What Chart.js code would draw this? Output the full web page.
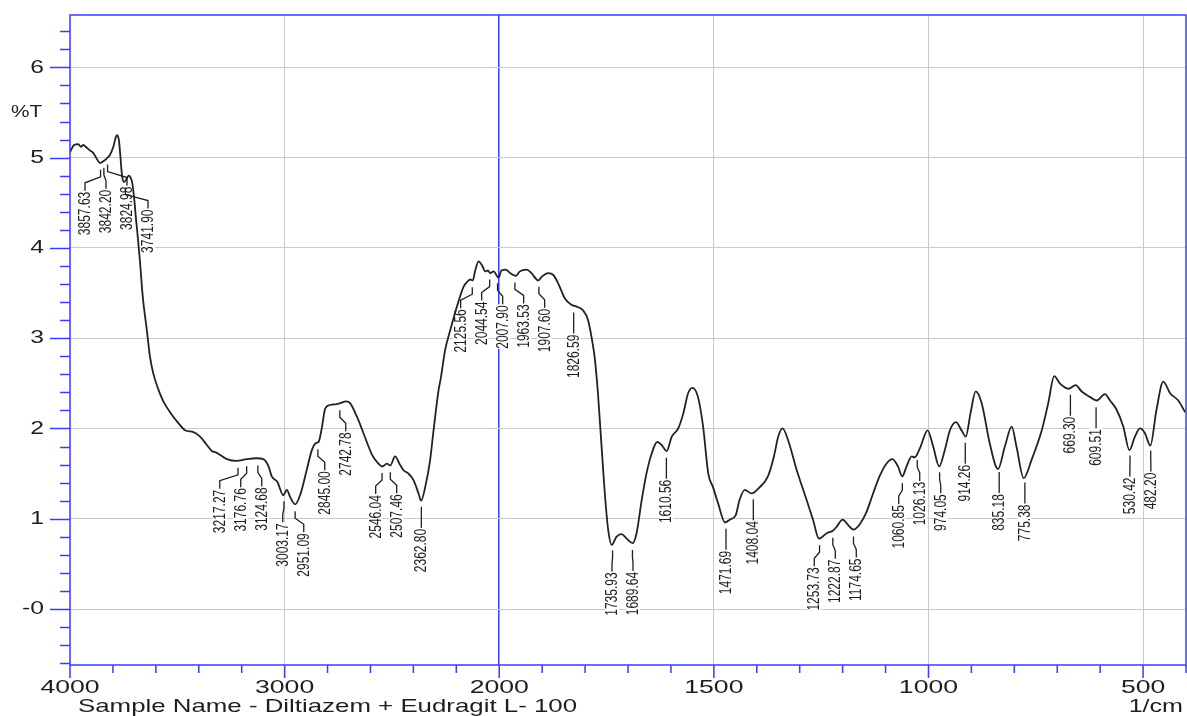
<!DOCTYPE html>
<html>
<head>
<meta charset="utf-8">
<title>FTIR - Diltiazem + Eudragit L-100</title>
<script src="https://cdn.jsdelivr.net/npm/chart.js@4"></script>
<style>
  html, body { margin: 0; padding: 0; background: #fff; }
  canvas { display: block; }
</style>
</head>
<body>
<canvas id="ftir" width="1187" height="716"></canvas>
<script>
// spectrum (1/cm, %T)
const wavenumbers = [
  4000, 3981, 3961, 3949, 3938, 3922, 3907, 3891, 3876, 3860, 3845, 3829, 3814, 3798, 3786, 3780,
  3772, 3765, 3758, 3748, 3737, 3727, 3718, 3709, 3702, 3692, 3683, 3674, 3661, 3642, 3627, 3612,
  3588, 3565, 3534, 3495, 3464, 3425, 3394, 3363, 3339, 3316, 3269, 3223, 3176, 3130, 3099, 3075,
  3060, 3034, 3006, 2990, 2974, 2951, 2928, 2897, 2873, 2853, 2842, 2827, 2811, 2788, 2757, 2741,
  2713, 2695, 2663, 2633, 2593, 2570, 2544, 2524, 2508, 2485, 2465, 2447, 2423, 2400, 2376, 2364,
  2345, 2322, 2306, 2283, 2272, 2252, 2228, 2197, 2166, 2151, 2135, 2123, 2112, 2096, 2081, 2065,
  2053, 2042, 2026, 2003, 1995, 1985, 1974, 1961, 1952, 1936, 1925, 1909, 1901, 1886, 1874, 1863,
  1847, 1832, 1820, 1805, 1793, 1781, 1777, 1770, 1762, 1754, 1746, 1738, 1727, 1715, 1703, 1689,
  1680, 1668, 1657, 1645, 1632, 1622, 1610, 1598, 1583, 1571, 1560, 1550, 1537, 1525, 1513, 1502,
  1490, 1474, 1463, 1449, 1440, 1428, 1412, 1393, 1374, 1360, 1350, 1340, 1327, 1307, 1284, 1269,
  1255, 1237, 1222, 1214, 1200, 1187, 1175, 1160, 1144, 1129, 1113, 1098, 1084, 1071, 1061, 1051,
  1039, 1032, 1020, 1002, 989, 975, 962, 950, 936, 923, 913, 902, 890, 876, 857, 838,
  822, 806, 795, 778, 760, 736, 721, 707, 694, 674, 657, 643, 624, 608, 589, 577,
  562, 546, 532, 519, 507, 496, 483, 469, 453, 437, 418, 402
];
const transmittance = [
  5.06, 5.14, 5.15, 5.12, 5.14, 5.11, 5.08, 5.05, 4.99, 4.94, 4.96, 4.99, 5.03, 5.12, 5.23, 5.25,
  5.19, 5.01, 4.81, 4.73, 4.76, 4.80, 4.78, 4.71, 4.57, 4.31, 4.09, 3.85, 3.46, 3.09, 2.79, 2.61,
  2.43, 2.30, 2.18, 2.06, 1.98, 1.96, 1.91, 1.82, 1.75, 1.73, 1.66, 1.64, 1.66, 1.67, 1.66, 1.58,
  1.47, 1.41, 1.26, 1.32, 1.24, 1.16, 1.26, 1.54, 1.76, 1.84, 1.85, 2.00, 2.22, 2.26, 2.27, 2.28,
  2.30, 2.28, 2.13, 1.95, 1.71, 1.63, 1.58, 1.61, 1.59, 1.69, 1.61, 1.54, 1.50, 1.43, 1.28, 1.20,
  1.35, 1.65, 1.98, 2.42, 2.56, 2.87, 3.09, 3.35, 3.57, 3.62, 3.65, 3.64, 3.75, 3.85, 3.81, 3.74,
  3.75, 3.72, 3.74, 3.67, 3.75, 3.76, 3.72, 3.69, 3.74, 3.76, 3.72, 3.64, 3.68, 3.72, 3.70, 3.61,
  3.44, 3.37, 3.35, 3.31, 3.20, 2.90, 2.76, 2.39, 1.83, 1.28, 0.87, 0.71, 0.80, 0.83, 0.78, 0.73,
  0.84, 1.21, 1.50, 1.72, 1.85, 1.82, 1.75, 1.91, 2.00, 2.17, 2.39, 2.45, 2.35, 2.02, 1.50, 1.35,
  1.17, 0.96, 0.99, 1.04, 1.21, 1.32, 1.28, 1.35, 1.47, 1.69, 1.91, 2.00, 1.87, 1.54, 1.21, 0.99,
  0.78, 0.84, 0.87, 0.91, 0.99, 0.93, 0.88, 0.94, 1.08, 1.28, 1.48, 1.61, 1.66, 1.58, 1.47, 1.58,
  1.69, 1.68, 1.78, 1.98, 1.80, 1.58, 1.76, 1.98, 2.07, 1.98, 1.91, 2.17, 2.41, 2.28, 1.83, 1.55,
  1.80, 2.02, 1.80, 1.45, 1.65, 1.98, 2.28, 2.58, 2.50, 2.44, 2.48, 2.41, 2.35, 2.31, 2.38, 2.31,
  2.21, 2.02, 1.76, 1.91, 2.00, 1.95, 1.81, 2.20, 2.52, 2.39, 2.31, 2.18
];

// picked peaks printed on the spectrum
const peakLabels = [
  3857.63, 3842.20, 3824.98, 3741.90, 3217.27, 3176.76, 3124.68, 3003.17, 2951.09, 2845.00,
  2742.78, 2546.04, 2507.46, 2362.80, 2125.56, 2044.54, 2007.90, 1963.53, 1907.60, 1826.59,
  1735.93, 1689.64, 1610.56, 1471.69, 1408.04, 1253.73, 1222.87, 1174.65, 1060.85, 1026.13,
  974.05, 914.26, 835.18, 775.38, 669.30, 609.51, 530.42, 482.20
];

const xMajorTicks = [4000, 3000, 2000, 1500, 1000, 500];
const xMinorTicks = [3800, 3600, 3400, 3200, 2800, 2600, 2400, 2200, 1900, 1800, 1700, 1600,
  1400, 1300, 1200, 1100, 900, 800, 700, 600, 400];
const xGridLines = [3000, 1500, 1000, 500];
const yMajorTicks = [0, 1, 2, 3, 4, 5, 6];
const yTickLabels = ["-0", "1", "2", "3", "4", "5", "6"];
const sampleName = "Sample Name - Diltiazem + Eudragit L- 100";
const yTitle = "%T";
const xUnit = "1/cm";

const BLUE = "#3b3bff";
const GRID = "#cacaca";
const INK = "#1e1e1e";
const FONT = '"Liberation Sans", Arial, sans-serif';

// the wavenumber axis is compressed 2:1 above 2000 1/cm
function toU(w) { return w >= 2000 ? (2000 - w) / 2 : 2000 - w; }

const yMinorTicks = [];
for (let v = -6; v <= 64; v += 2) {
  if (v % 10 !== 0) yMinorTicks.push(v / 10);
}

function interpT(w) {
  for (let i = 0; i < wavenumbers.length - 1; i++) {
    const a = wavenumbers[i], b = wavenumbers[i + 1];
    if (w <= a && w >= b) {
      const f = (a - w) / (a - b);
      return transmittance[i] + f * (transmittance[i + 1] - transmittance[i]);
    }
  }
  return transmittance[transmittance.length - 1];
}

function wideText(ctx, text, x, y, sx, align) {
  ctx.save();
  ctx.translate(x, y);
  ctx.scale(sx, 1);
  ctx.textAlign = align;
  ctx.fillText(text, 0, 0);
  ctx.restore();
}

// push labels apart so neighbours keep a minimum spacing
function spreadLabels(items, gap, minX) {
  const groups = [];
  function start(g) {
    const n = g.list.length;
    return Math.max(g.sum / n - (n - 1) / 2 * gap, minX);
  }
  items.forEach(function(it) {
    groups.push({ list: [it], sum: it.px });
    while (groups.length > 1) {
      const g = groups[groups.length - 1];
      const p = groups[groups.length - 2];
      if (start(g) - (start(p) + (p.list.length - 1) * gap) >= gap) break;
      p.list = p.list.concat(g.list);
      p.sum += g.sum;
      groups.pop();
    }
  });
  groups.forEach(function(g) {
    const s = start(g);
    g.list.forEach(function(it, i) { it.lx = s + i * gap; });
  });
}

const peakPlugin = {
  id: "peaks",
  beforeDatasetsDraw(chart) {
    const { ctx, chartArea, scales: { x, y } } = chart;
    const items = peakLabels.map(w => ({ w: w, px: x.getPixelForValue(toU(w)) }))
      .sort((a, b) => a.px - b.px);
    spreadLabels(items, 21, chartArea.left + 15);

    ctx.save();
    ctx.font = "12px " + FONT;
    items.forEach(function(it) {
      const yc = y.getPixelForValue(interpT(it.w));
      const text = it.w.toFixed(2);
      const top = yc + 28;
      const len = ctx.measureText(text).width;

      // white box under the text breaks the grid like the original print
      ctx.fillStyle = "#fff";
      ctx.fillRect(it.lx - 7, top, 14, len + 1);

      ctx.strokeStyle = INK;
      ctx.lineWidth = 1.3;
      ctx.beginPath();
      ctx.moveTo(it.px, yc + 7);
      ctx.lineTo(it.px, yc + 14);
      ctx.lineTo(it.lx, yc + 20);
      ctx.lineTo(it.lx, top);
      ctx.stroke();

      ctx.save();
      ctx.translate(it.lx, top + 1);
      ctx.rotate(-Math.PI / 2);
      ctx.scale(1, 1.3);
      ctx.fillStyle = INK;
      ctx.textAlign = "right";
      ctx.textBaseline = "middle";
      ctx.fillText(text, 0, 0.5);
      ctx.restore();
    });
    ctx.restore();
  }
};

const framePlugin = {
  id: "frame",
  afterDraw(chart) {
    const { ctx, chartArea: a, scales: { x, y } } = chart;
    ctx.save();
    ctx.strokeStyle = BLUE;
    ctx.lineWidth = 1.5;
    ctx.strokeRect(a.left, a.top, a.right - a.left, a.bottom - a.top);

    ctx.beginPath();
    xMajorTicks.forEach(function(w) {
      const px = x.getPixelForValue(toU(w));
      ctx.moveTo(px, a.bottom); ctx.lineTo(px, a.bottom + 13);
    });
    xMinorTicks.forEach(function(w) {
      const px = x.getPixelForValue(toU(w));
      ctx.moveTo(px, a.bottom); ctx.lineTo(px, a.bottom + 8);
    });
    yMajorTicks.forEach(function(v) {
      const py = Math.round(y.getPixelForValue(v)) + 0.5;
      ctx.moveTo(a.left - 20, py); ctx.lineTo(a.left, py);
    });
    yMinorTicks.forEach(function(v) {
      const py = Math.round(y.getPixelForValue(v)) + 0.5;
      ctx.moveTo(a.left - 10, py); ctx.lineTo(a.left, py);
    });
    ctx.stroke();

    ctx.fillStyle = INK;
    ctx.textBaseline = "middle";
    ctx.font = "19px " + FONT;
    xMajorTicks.forEach(function(w) {
      wideText(ctx, String(w), x.getPixelForValue(toU(w)), a.bottom + 23, 1.4, "center");
    });
    yMajorTicks.forEach(function(v, i) {
      wideText(ctx, yTickLabels[i], a.left - 26, y.getPixelForValue(v), 1.3, "right");
    });
    wideText(ctx, sampleName, 78, a.bottom + 42, 1.36, "left");
    wideText(ctx, xUnit, a.right - 3, a.bottom + 42, 1.32, "right");
    ctx.font = "16px " + FONT;
    wideText(ctx, yTitle, 11, y.getPixelForValue(5.5), 1.3, "left");
    ctx.restore();
  }
};

const ctx = document.getElementById("ftir").getContext("2d");
new Chart(ctx, {
  type: "line",
  data: {
    datasets: [{
      data: wavenumbers.map((w, i) => ({ x: toU(w), y: transmittance[i] })),
      borderColor: "#222222",
      borderWidth: 1.8,
      pointRadius: 0,
      cubicInterpolationMode: "monotone",
      fill: false
    }]
  },
  options: {
    responsive: false,
    animation: false,
    events: [],
    layout: { padding: { top: 15, right: 1, left: 0, bottom: 0 } },
    plugins: { legend: { display: false }, tooltip: { enabled: false } },
    scales: {
      x: {
        type: "linear",
        min: toU(4000),
        max: toU(400),
        afterBuildTicks: s => { s.ticks = xMajorTicks.concat(xMinorTicks).map(w => ({ value: toU(w) })); },
        afterFit: s => { s.height = 51; },
        ticks: { display: false },
        border: { display: false },
        grid: {
          drawTicks: false,
          color: c => {
            const v = c.tick ? c.tick.value : null;
            if (v === toU(2000)) return BLUE;
            return xGridLines.some(w => toU(w) === v) ? GRID : "rgba(0,0,0,0)";
          },
          lineWidth: c => (c.tick && c.tick.value === toU(2000)) ? 1.5 : 1
        }
      },
      y: {
        type: "linear",
        min: -0.62,
        max: 6.58,
        afterBuildTicks: s => { s.ticks = yMajorTicks.map(v => ({ value: v })); },
        afterFit: s => { s.width = 70; },
        ticks: { display: false },
        border: { display: false },
        grid: { drawTicks: false, color: GRID, lineWidth: 1 }
      }
    }
  },
  plugins: [peakPlugin, framePlugin]
});
</script>
</body>
</html>
